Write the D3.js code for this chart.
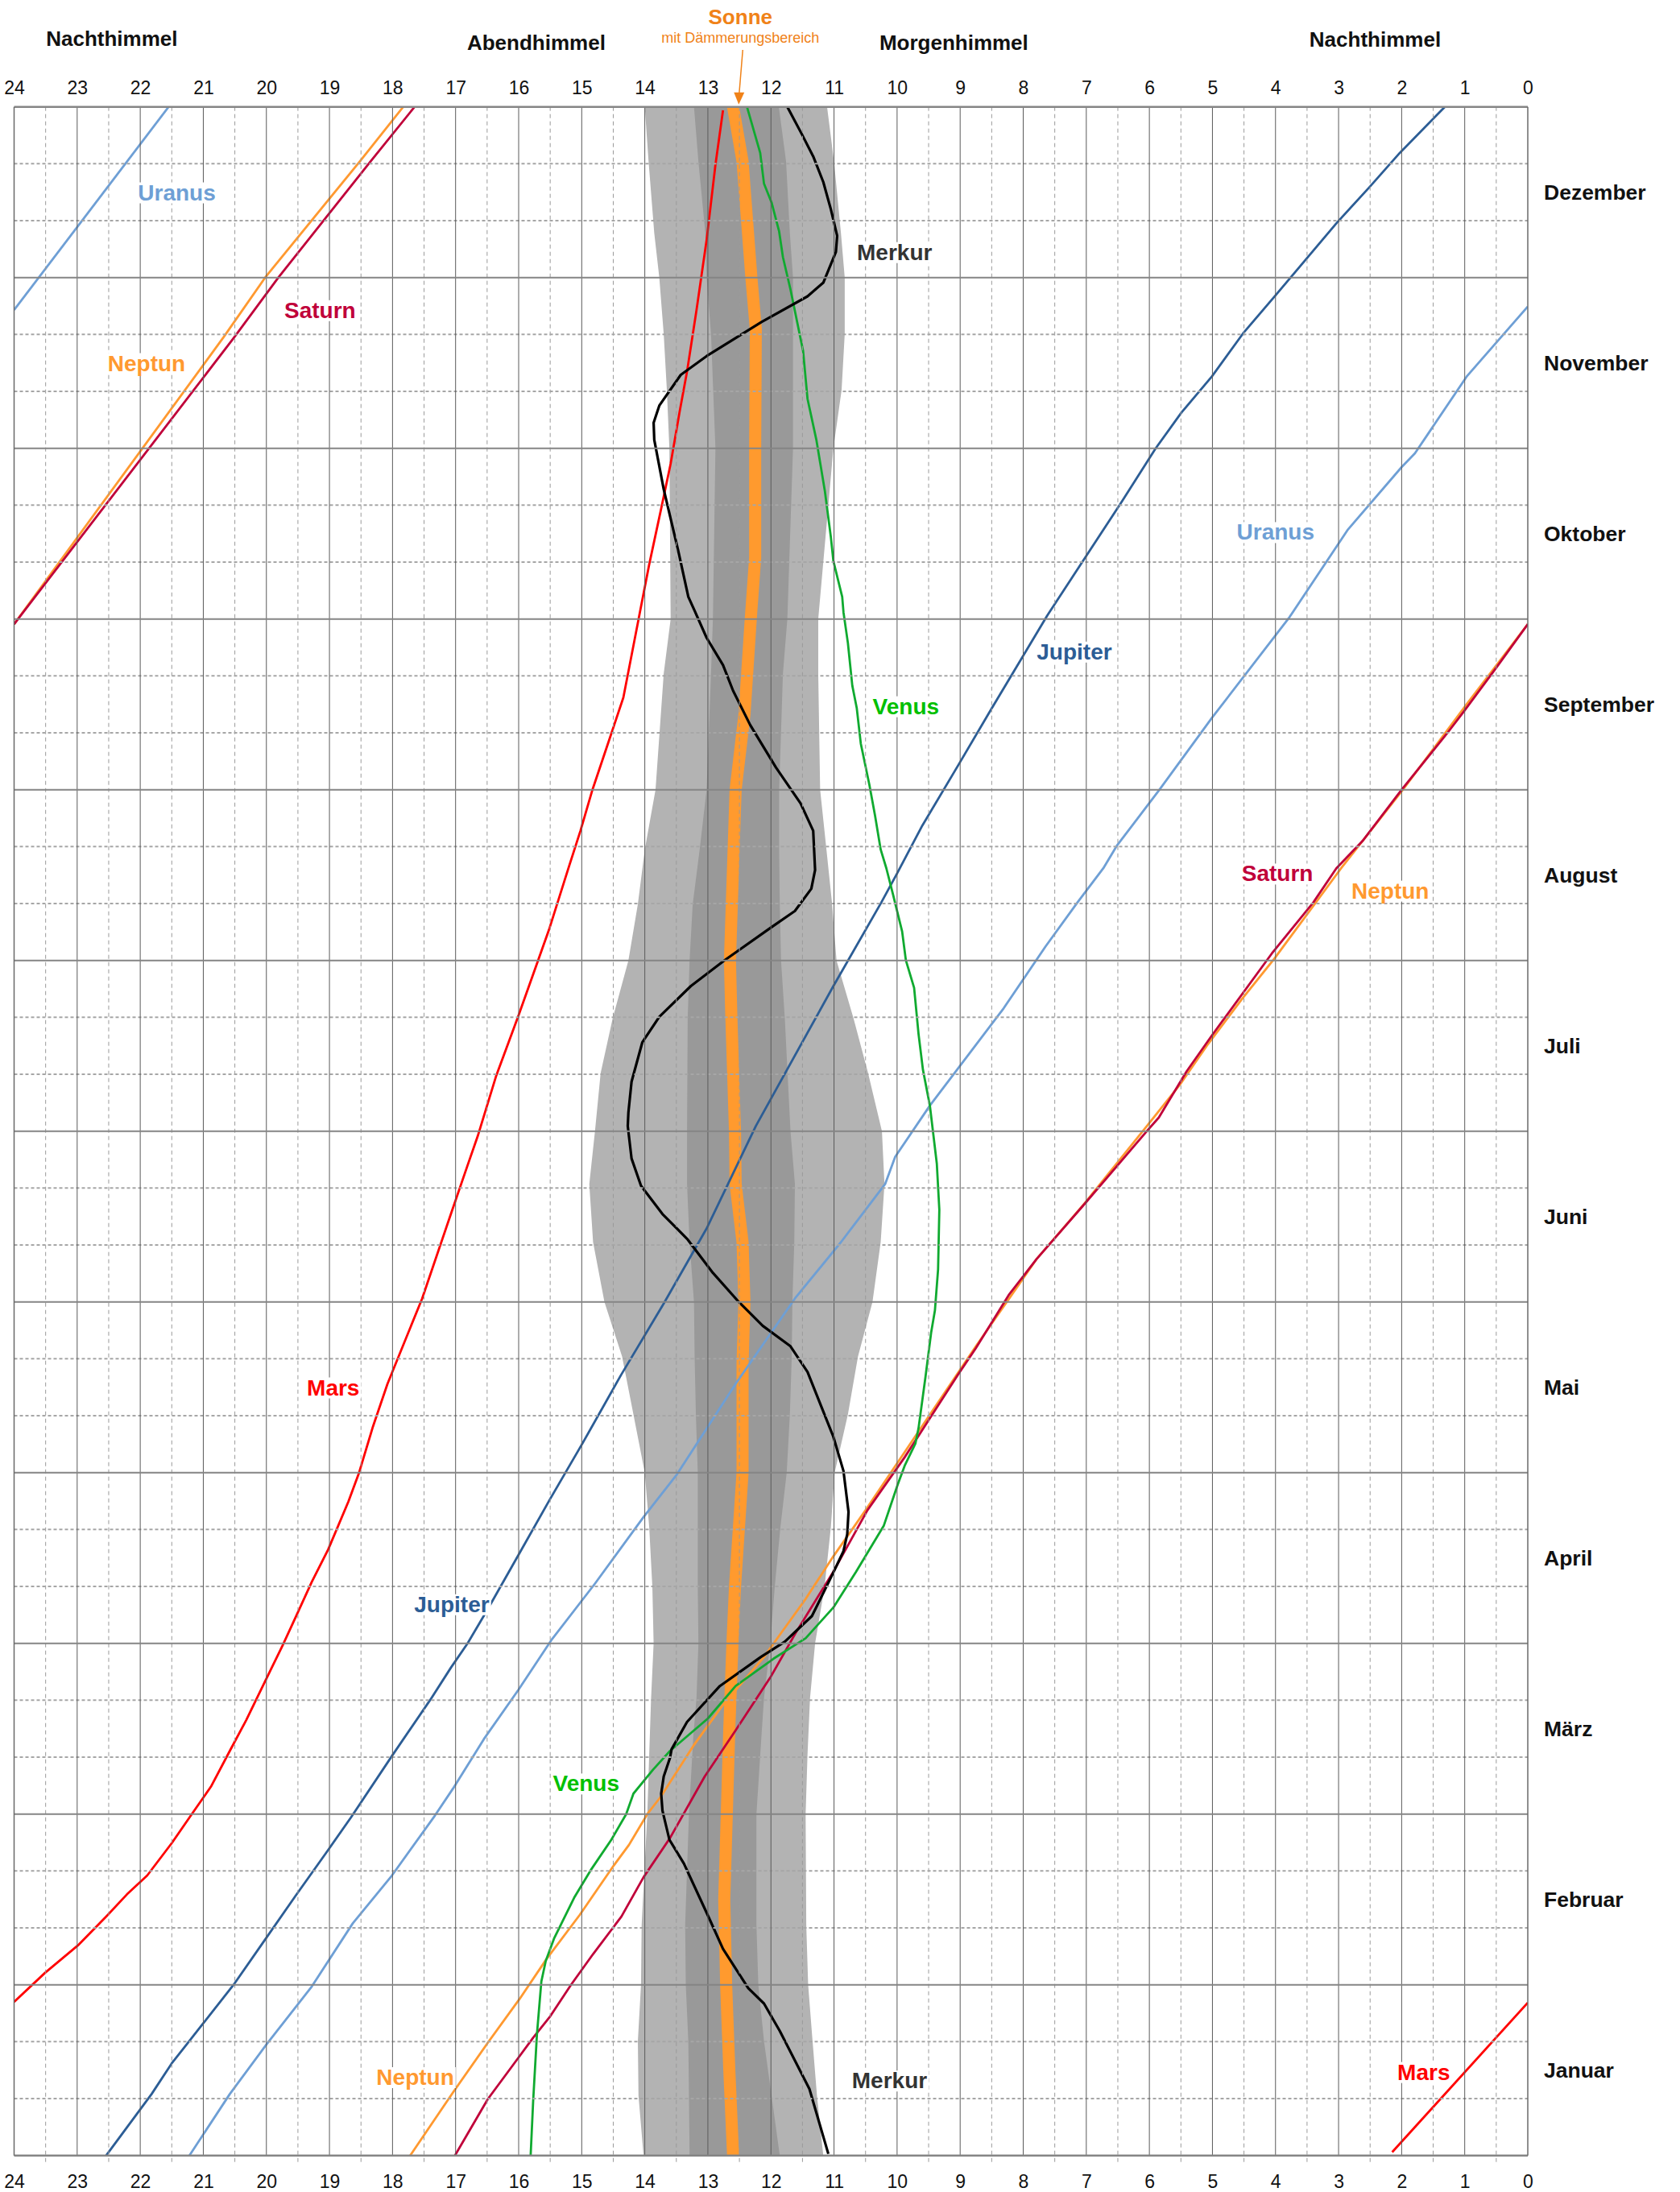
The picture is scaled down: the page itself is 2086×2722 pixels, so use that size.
<!DOCTYPE html>
<html><head><meta charset="utf-8">
<script src="https://cdn.jsdelivr.net/npm/d3@7"></script>
<style>
body{margin:0;background:#fff;}
svg{display:block;font-family:"Liberation Sans",Arial,Helvetica,sans-serif;}
</style>
</head><body>
<svg id="chart" width="2086" height="2722"></svg>
<script>
// ---------- DATA (month index 0 = 1. Januar ... 12 = 31. Dezember; hour = Uhrzeit-Skala) ----------
const monthNames = ["Januar","Februar","März","April","Mai","Juni","Juli","August","September","Oktober","November","Dezember"];
const hourTicks = [24,23,22,21,20,19,18,17,16,15,14,13,12,11,10,9,8,7,6,5,4,3,2,1,0];
const skyRegionNames = ["Nachthimmel","Abendhimmel","Morgenhimmel","Nachthimmel"];
const sunTitle = "Sonne";
const sunSubtitle = "mit Dämmerungsbereich";

// [month, hour]
const sun = [[0,12.60],[0.5,12.66],[1,12.71],[1.5,12.74],[2,12.70],[2.5,12.66],[3,12.61],[3.33,12.57],[4,12.45],[4.64,12.45],[5,12.42],[5.35,12.45],[5.69,12.56],[6,12.57],[6.7,12.63],[7,12.65],[8,12.56],[8.44,12.42],[9,12.32],[9.36,12.25],[10,12.25],[10.7,12.24],[11,12.31],[11.68,12.45],[12,12.6]];

// [month, left hour, right hour]
const twilightOuter = [[0,14.02,11.17],[0.35,14.10,11.27],[0.67,14.11,11.34],[1,14.06,11.41],[1.35,14.05,11.44],[2,13.96,11.45],[2.35,13.93,11.42],[2.68,13.90,11.38],[3,13.86,11.30],[3.33,13.88,11.15],[3.68,13.93,11.05],[4,14.0,10.99],[4.34,14.18,10.78],[4.68,14.36,10.62],[5,14.64,10.39],[5.35,14.82,10.26],[5.69,14.88,10.20],[6,14.79,10.24],[6.34,14.70,10.46],[6.66,14.51,10.69],[7,14.26,10.96],[7.33,14.11,11.03],[7.65,14.0,11.12],[8,13.83,11.22],[8.68,13.70,11.25],[9,13.59,11.25],[9.5,13.60,11.13],[10,13.61,11.01],[10.34,13.65,10.88],[10.67,13.70,10.83],[11,13.77,10.83],[11.26,13.85,10.89],[11.68,13.94,11.0],[12,14.0,11.11]];
const twilightInner = [[0,13.29,11.86],[0.35,13.30,11.99],[0.67,13.31,12.11],[1,13.35,12.20],[1.35,13.36,12.23],[2,13.30,12.23],[2.46,13.23,12.15],[2.68,13.18,12.11],[3,13.15,12.01],[3.33,13.16,11.94],[3.68,13.16,11.85],[4,13.16,11.75],[4.34,13.19,11.70],[4.68,13.21,11.67],[5,13.22,11.66],[5.35,13.29,11.63],[5.69,13.33,11.62],[6,13.33,11.69],[6.66,13.32,11.78],[7,13.29,11.84],[7.33,13.24,11.86],[7.65,13.13,11.87],[8,13.02,11.87],[8.68,12.95,11.81],[9,12.92,11.74],[10,12.88,11.65],[10.67,12.95,11.65],[11,13.02,11.65],[11.26,13.04,11.70],[11.68,13.15,11.76],[12,13.22,11.875]];

const mercury = [[0.01,11.09],[0.39,11.39],[0.73,11.86],[0.89,12.11],[0.98,12.36],[1.21,12.76],[1.39,12.98],[1.71,13.38],[1.85,13.61],[2.02,13.72],[2.12,13.74],[2.22,13.70],[2.33,13.60],[2.38,13.575],[2.54,13.33],[2.75,12.81],[2.92,12.16],[3.01,11.78],[3.16,11.35],[3.40,11.03],[3.54,10.85],[3.64,10.79],[3.77,10.77],[4.01,10.85],[4.21,11.01],[4.46,11.28],[4.59,11.42],[4.74,11.69],[4.86,12.13],[5.0,12.51],[5.17,12.92],[5.37,13.33],[5.515,13.72],[5.68,14.06],[5.84,14.21],[6.03,14.27],[6.11,14.26],[6.29,14.21],[6.52,14.04],[6.67,13.77],[6.85,13.27],[7.0,12.74],[7.19,12.01],[7.29,11.62],[7.42,11.36],[7.53,11.30],[7.76,11.33],[7.92,11.53],[8.13,11.92],[8.38,12.33],[8.58,12.60],[8.73,12.76],[8.89,13.02],[9.04,13.20],[9.13,13.31],[9.40,13.47],[9.76,13.70],[10.05,13.85],[10.15,13.86],[10.25,13.77],[10.43,13.43],[10.54,13.02],[10.74,12.15],[10.89,11.42],[10.97,11.17],[11.15,10.97],[11.245,10.95],[11.40,11.05],[11.56,11.17],[11.71,11.33],[11.84,11.51],[12,11.74]];

const venus = [[0.0,15.81],[0.32,15.77],[0.71,15.71],[1.02,15.64],[1.14,15.57],[1.27,15.44],[1.51,15.12],[1.67,14.86],[1.85,14.53],[2.0,14.295],[2.12,14.18],[2.26,13.87],[2.37,13.60],[2.56,13.0],[2.75,12.56],[2.91,11.96],[3.03,11.45],[3.21,11.01],[3.42,10.65],[3.69,10.21],[3.93,9.99],[4.04,9.88],[4.17,9.71],[4.26,9.66],[4.56,9.55],[4.82,9.46],[4.95,9.40],[5.19,9.35],[5.54,9.33],[5.81,9.37],[6.15,9.48],[6.36,9.59],[6.57,9.66],[6.84,9.73],[7.0,9.86],[7.17,9.92],[7.38,10.06],[7.54,10.17],[7.65,10.26],[7.85,10.35],[8.03,10.44],[8.27,10.575],[8.48,10.64],[8.61,10.71],[8.86,10.78],[9.04,10.85],[9.13,10.87],[9.34,11.01],[9.48,11.05],[9.75,11.145],[10.05,11.28],[10.29,11.42],[10.57,11.49],[10.93,11.69],[11.12,11.81],[11.27,11.87],[11.44,11.99],[11.55,12.11],[11.73,12.17],[12.0,12.38]];

const marsJan = [[0.02,2.15],[0.895,0.0]];
const mars = [[0.90,24.0],[1.07,23.51],[1.23,22.99],[1.40,22.54],[1.53,22.21],[1.64,21.89],[1.83,21.50],[1.99,21.20],[2.16,20.88],[2.37,20.58],[2.55,20.32],[2.77,20.03],[2.99,19.74],[3.15,19.54],[3.36,19.28],[3.55,19.02],[3.83,18.70],[4.0,18.53],[4.27,18.31],[4.52,18.08],[5.02,17.53],[5.52,17.07],[5.80,16.81],[5.97,16.65],[6.32,16.36],[6.68,16.0],[6.95,15.74],[7.19,15.51],[7.53,15.22],[7.76,15.02],[8.0,14.83],[8.33,14.53],[8.54,14.34],[8.94,14.13],[9.32,13.93],[9.63,13.75],[9.91,13.59],[10.21,13.45],[10.45,13.33],[10.81,13.18],[11.22,13.02],[11.66,12.88],[11.98,12.76]];

const jupiter = [[0,22.54],[0.36,21.82],[0.54,21.50],[0.77,21.01],[1.0,20.52],[1.26,20.03],[1.52,19.54],[1.79,19.02],[1.98,18.66],[2.34,18.01],[2.67,17.40],[2.86,17.07],[3.0,16.81],[3.2,16.49],[3.52,16.0],[3.84,15.51],[4.17,14.99],[4.57,14.38],[4.99,13.70],[5.43,13.02],[6.03,12.24],[6.85,11.01],[7.34,10.25],[7.51,10.0],[7.79,9.60],[8.15,9.02],[8.47,8.51],[8.81,7.96],[9.02,7.62],[9.37,7.0],[9.68,6.45],[10.0,5.90],[10.21,5.49],[10.42,5.01],[10.68,4.50],[10.90,3.99],[11.11,3.51],[11.32,3.03],[11.53,2.51],[11.73,2.03],[12.0,1.315]];

const uranus = [[0,21.22],[0.36,20.58],[0.65,20.0],[0.99,19.28],[1.36,18.63],[1.64,18.01],[1.99,17.33],[2.15,17.04],[2.44,16.55],[2.73,16.0],[3.02,15.48],[3.35,14.79],[3.74,14.02],[3.99,13.49],[4.52,12.56],[5.02,11.62],[5.35,10.89],[5.69,10.19],[5.85,10.03],[6.15,9.48],[6.72,8.31],[7.08,7.65],[7.34,7.14],[7.54,6.73],[7.67,6.52],[8.0,5.84],[8.42,5.01],[9.01,3.78],[9.52,2.86],[9.89,2.0],[9.97,1.79],[10.42,0.97],[10.83,0.0]];
const uranusDec = [[10.81,24.0],[12,21.55]];

const saturn = [[0,17.01],[0.33,16.49],[0.56,16.03],[0.69,15.77],[0.81,15.51],[1.0,15.17],[1.18,14.82],[1.40,14.37],[1.63,14.02],[1.86,13.60],[2.22,13.05],[2.49,12.56],[2.80,12.01],[3.06,11.61],[3.42,11.01],[3.78,10.47],[4.09,9.88],[4.57,9.04],[4.73,8.75],[5.04,8.23],[5.25,7.79],[5.56,7.06],[6.0,6.04],[6.08,5.85],[6.35,5.41],[6.56,5.01],[7.04,4.06],[7.34,3.40],[7.54,3.035],[7.70,2.62],[8.0,2.0],[8.33,1.28],[8.46,1.01],[8.72,0.49],[8.97,0.0]];
const saturnDec = [[8.97,24.0],[10.65,20.51],[11.0,19.81],[11.68,18.35],[12,17.65]];

const neptune = [[0,17.72],[0.37,17.04],[0.66,16.49],[0.92,15.98],[1.15,15.56],[1.41,15.03],[1.70,14.49],[1.82,14.25],[2.0,13.96],[2.10,13.75],[2.40,13.23],[2.64,12.76],[2.92,12.11],[3.06,11.84],[3.26,11.45],[3.51,11.01],[3.78,10.50],[4.12,9.88],[4.74,8.75],[5.25,7.79],[5.58,7.02],[6.03,6.04],[6.27,5.52],[6.50,5.09],[6.77,4.54],[7.01,4.02],[7.54,2.96],[8.0,1.98],[8.5,0.97],[8.97,0.0]];
const neptuneDec = [[8.97,24.0],[10.65,20.68],[11.0,20.02],[11.68,18.52],[12,17.83]];

const planetNames = ["Merkur","Venus","Mars","Jupiter","Saturn","Uranus","Neptun"];

// ---------- DRAWING ----------
const svg = d3.select("#chart");
const x = d3.scaleLinear().domain([24,0]).range([17.5,1897]);
const y = d3.scaleLinear().domain([0,12]).range([2676.7,132.7]);
const X0 = x(24), X1 = x(0), Y0 = y(12), Y1 = y(0);

svg.append("defs").append("clipPath").attr("id","plot")
  .append("rect").attr("x",X0).attr("y",Y0).attr("width",X1-X0).attr("height",Y1-Y0);

const plot = svg.append("g").attr("clip-path","url(#plot)");

// twilight bands
const band = d3.area().y(d=>y(d[0])).x0(d=>x(d[1])).x1(d=>x(d[2]));
plot.append("path").datum(twilightOuter).attr("d",band).attr("fill","#b3b3b3");
plot.append("path").datum(twilightInner).attr("d",band).attr("fill","#999999");

// grid
const grid = svg.append("g");
const halfHours = d3.range(0.5,24,1);
grid.selectAll(".vh").data(halfHours).join("line")
  .attr("x1",d=>x(d)).attr("x2",d=>x(d)).attr("y1",Y0).attr("y2",Y1+8)
  .attr("stroke","#9a9a9a").attr("stroke-width",1).attr("stroke-dasharray","5,4");
const thirds = d3.range(0,36).filter(i=>i%3!==0).map(i=>i/3);
grid.selectAll(".ht").data(thirds).join("line")
  .attr("x1",X0).attr("x2",X1).attr("y1",d=>y(d)).attr("y2",d=>y(d))
  .attr("stroke","#a6a6a6").attr("stroke-width",2).attr("stroke-dasharray","4,3");
grid.selectAll(".vhr").data(hourTicks.filter(h=>h>0&&h<24)).join("line")
  .attr("x1",d=>x(d)).attr("x2",d=>x(d)).attr("y1",Y0).attr("y2",Y1)
  .attr("stroke","#5a5a5a").attr("stroke-width",1);
grid.selectAll(".hm").data(d3.range(0,13)).join("line")
  .attr("x1",X0).attr("x2",X1).attr("y1",d=>y(d)).attr("y2",d=>y(d))
  .attr("stroke","#858585").attr("stroke-width",d=>(d===0||d===12)?2.5:2);
grid.selectAll(".vb").data([24,0]).join("line")
  .attr("x1",d=>x(d)).attr("x2",d=>x(d)).attr("y1",Y0).attr("y2",Y1)
  .attr("stroke","#6a6a6a").attr("stroke-width",1.5);

// lines
const line = d3.line().x(d=>x(d[1])).y(d=>y(d[0]));
const drawLine = (data,color,w)=>plot.append("path").datum(data).attr("d",line)
  .attr("fill","none").attr("stroke",color).attr("stroke-width",w).attr("stroke-linejoin","round");

drawLine(sun,"#ff9a2e",15).attr("stroke-linejoin","miter");
drawLine(marsJan,"#ff0000",2.8);
drawLine(mars,"#ff0000",2.8);
drawLine(jupiter,"#2c5d95",2.8);
drawLine(uranus,"#6e9fd5",2.8);
drawLine(uranusDec,"#6e9fd5",2.8);
drawLine(neptune,"#ff9930",2.8);
drawLine(neptuneDec,"#ff9930",2.8);
drawLine(saturn,"#c0003a",2.8);
drawLine(saturnDec,"#c0003a",2.8);
drawLine(venus,"#10aa30",2.8);
drawLine(mercury,"#000000",3.2);

// axes (top and bottom hour labels)
const axTop = svg.append("g").attr("transform",`translate(0,${Y0})`)
  .call(d3.axisTop(x).tickValues(hourTicks).tickSize(0).tickPadding(16).tickFormat(d3.format("d")));
const axBot = svg.append("g").attr("transform",`translate(0,${Y1})`)
  .call(d3.axisBottom(x).tickValues(hourTicks).tickSize(0).tickPadding(24).tickFormat(d3.format("d")));
[axTop,axBot].forEach(a=>{
  a.select(".domain").remove();
  a.attr("font-size",null).attr("font-family",null);
  a.selectAll("text").attr("font-size",23).attr("fill","#111");
});

// month labels
svg.append("g").selectAll("text").data(monthNames).join("text")
  .attr("x",X1+20).attr("y",(d,i)=>y(i+0.5)).attr("dy","0.35em")
  .attr("font-size",26.5).attr("font-weight","bold").attr("fill","#111").text(d=>d);

// header texts
const headerHours = [22.45,15.72,9.1,2.42];
const headerBase = [57,61.5,61.5,58];
svg.append("g").selectAll("text").data(skyRegionNames).join("text")
  .attr("x",(d,i)=>x(headerHours[i])).attr("y",(d,i)=>headerBase[i])
  .attr("text-anchor","middle").attr("font-size",26).attr("font-weight","bold").attr("fill","#111").text(d=>d);

const sunEnd = sun[sun.length-1];
const sx = x(sunEnd[1]);
svg.append("text").attr("x",sx+9).attr("y",30).attr("text-anchor","middle")
  .attr("font-size",26).attr("font-weight","bold").attr("fill","#f08218").text(sunTitle);
svg.append("text").attr("x",sx+9).attr("y",53).attr("text-anchor","middle")
  .attr("font-size",18).attr("fill","#f08218").text(sunSubtitle);
svg.append("line").attr("x1",sx+12).attr("y1",62).attr("x2",sx+7.5).attr("y2",Y0-16)
  .attr("stroke","#f08218").attr("stroke-width",1.5);
svg.append("path").attr("d",`M${sx+1},${Y0-18} L${sx+14},${Y0-18} L${sx+7},${Y0-3} Z`).attr("fill","#f08218");

// planet labels: [name index, hour, month, color]
const labelSpecs = [
  [5,21.42,11.50,"#6e9fd5"],[4,19.15,10.81,"#c0003a"],[6,21.90,10.50,"#ff9930"],
  [0,10.04,11.15,"#333333"],[1,9.86,8.49,"#00c000"],[3,7.19,8.81,"#2c5d95"],
  [5,4.0,9.51,"#6e9fd5"],[4,3.97,7.51,"#c0003a"],[6,2.18,7.41,"#ff9930"],
  [2,18.94,4.50,"#ff0000"],[3,17.06,3.23,"#2c5d95"],[1,14.93,2.18,"#00c000"],
  [6,17.64,0.46,"#ff9930"],[0,10.12,0.44,"#333333"],[2,1.65,0.49,"#ff0000"]
];
const lg = svg.append("g");
labelSpecs.forEach(s=>{
  const g = lg.append("g");
  const t = g.append("text").attr("x",x(s[1])).attr("y",y(s[2])).attr("dy","0.35em")
    .attr("text-anchor","middle").attr("font-size",28).attr("font-weight","bold")
    .attr("fill",s[3]).text(planetNames[s[0]]);
  const bb = t.node().getBBox();
  g.insert("rect","text").attr("x",bb.x-2).attr("y",bb.y+3).attr("width",bb.width+4).attr("height",bb.height-5).attr("fill","#fff");
});
</script>
</body></html>
